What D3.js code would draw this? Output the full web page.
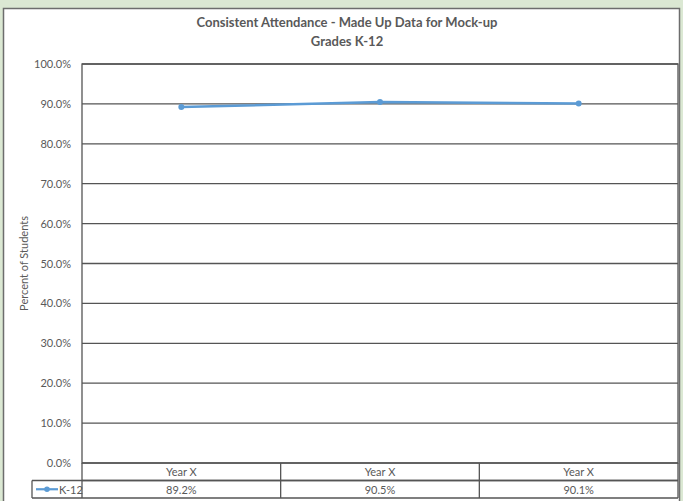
<!DOCTYPE html>
<html><head><meta charset="utf-8">
<script src="https://cdn.jsdelivr.net/npm/d3@7"></script>
<style>html,body{margin:0;padding:0;background:#dbe8d3;}svg{display:block;}</style>
</head><body>
<script>
const categories = ["Year X", "Year X", "Year X"];
const seriesName = "K-12";
const values = [89.2, 90.5, 90.1];
const yTicks = [0, 10, 20, 30, 40, 50, 60, 70, 80, 90, 100];
const titleLines = ["Consistent Attendance - Made Up Data for Mock-up", "Grades K-12"];
const yAxisTitle = "Percent of Students";

const W = 683, H = 501;
const svg = d3.select("body").append("svg").attr("width", W).attr("height", H);
const font = "Lato, 'Open Sans', sans-serif";
const txt = "#595959";

// panel
svg.append("rect").attr("x", 3.5).attr("y", 8.5).attr("width", 676).attr("height", 500)
  .attr("fill", "#fff").attr("stroke", "#6d6d6d").attr("stroke-width", 1.5);

const L = 82, R = 678, T = 64, B = 463;
const x = d3.scaleBand().domain(d3.range(categories.length)).range([L, R]);
const y = d3.scaleLinear().domain([0, 100]).range([B, T]);

// title
svg.append("g").selectAll("text").data(titleLines).join("text")
  .attr("x", 347).attr("y", (d, i) => 27 + i * 19)
  .attr("text-anchor", "middle").attr("font-family", font).attr("font-weight", "bold")
  .attr("font-size", 13).attr("fill", txt).text(d => d);

// gridlines
svg.append("g").selectAll("line").data(yTicks).join("line")
  .attr("x1", L).attr("x2", R).attr("y1", d => y(d)).attr("y2", d => y(d))
  .attr("stroke", "#555").attr("stroke-width", 1.3);

// plot border
svg.append("rect").attr("x", L).attr("y", T).attr("width", R - L).attr("height", B - T)
  .attr("fill", "none").attr("stroke", "#555").attr("stroke-width", 1.3);

// y tick labels
svg.append("g").selectAll("text").data(yTicks).join("text")
  .attr("x", 71).attr("y", d => y(d) + 4).attr("text-anchor", "end")
  .attr("font-family", font).attr("font-size", 11).attr("fill", txt)
  .text(d => d3.format(".1f")(d) + "%");

// y axis title
svg.append("text").attr("transform", `translate(28,${(T + B) / 2}) rotate(-90)`)
  .attr("text-anchor", "middle").attr("font-family", font).attr("font-size", 11)
  .attr("fill", txt).text(yAxisTitle);

// data table
const rowH = 17.5, r1 = B, r2 = B + rowH, r3 = B + 2 * rowH;
const tg = svg.append("g").attr("stroke", "#555").attr("stroke-width", 1.3);
tg.append("line").attr("x1", L).attr("x2", R).attr("y1", r2).attr("y2", r2);
tg.append("line").attr("x1", 32).attr("x2", R).attr("y1", r2).attr("y2", r2);
tg.append("line").attr("x1", 32).attr("x2", R).attr("y1", r3).attr("y2", r3);
tg.append("line").attr("x1", 32).attr("x2", 32).attr("y1", r2).attr("y2", r3);
tg.selectAll("line.v").data(d3.range(categories.length + 1)).join("line").attr("class", "v")
  .attr("x1", i => i < categories.length ? x(i) : R).attr("x2", i => i < categories.length ? x(i) : R)
  .attr("y1", r1).attr("y2", r3);

svg.append("g").selectAll("text").data(categories).join("text")
  .attr("x", (d, i) => x(i) + x.bandwidth() / 2).attr("y", r1 + 13)
  .attr("text-anchor", "middle").attr("font-family", font).attr("font-size", 11)
  .attr("fill", txt).text(d => d);
svg.append("g").selectAll("text").data(values).join("text")
  .attr("x", (d, i) => x(i) + x.bandwidth() / 2).attr("y", r2 + 13)
  .attr("text-anchor", "middle").attr("font-family", font).attr("font-size", 11)
  .attr("fill", txt).text(d => d3.format(".1f")(d) + "%");

// legend key
const blue = "#5b9bd5";
svg.append("line").attr("x1", 36).attr("x2", 58).attr("y1", r2 + rowH / 2).attr("y2", r2 + rowH / 2)
  .attr("stroke", blue).attr("stroke-width", 2.2);
svg.append("circle").attr("cx", 47).attr("cy", r2 + rowH / 2).attr("r", 2.8).attr("fill", blue);
svg.append("text").attr("x", 59).attr("y", r2 + 13).attr("font-family", font).attr("font-size", 11)
  .attr("fill", txt).text(seriesName);

// line + markers
const line = d3.line().x((d, i) => x(i) + x.bandwidth() / 2).y(d => y(d));
svg.append("path").datum(values).attr("d", line).attr("fill", "none")
  .attr("stroke", blue).attr("stroke-width", 2.5).attr("stroke-linejoin", "round");
svg.append("g").selectAll("circle").data(values).join("circle")
  .attr("cx", (d, i) => x(i) + x.bandwidth() / 2).attr("cy", d => y(d)).attr("r", 3).attr("fill", blue);
</script>
</body></html>
